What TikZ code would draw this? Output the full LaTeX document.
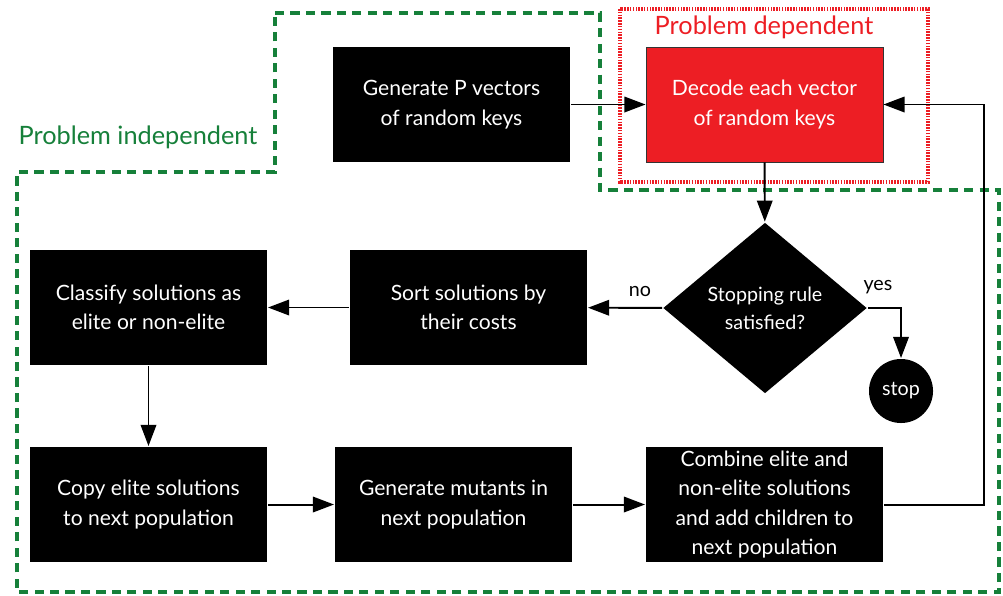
\documentclass[tikz,border=0pt]{standalone}
\usepackage{fontspec}
\setmainfont{Lato}
\usetikzlibrary{shapes.geometric, arrows.meta}
\definecolor{pgreen}{RGB}{22,128,58}
\definecolor{pred}{RGB}{237,30,36}

\begin{document}
\begin{tikzpicture}[x=0.025cm, y=-0.025cm, line width=1.4pt,
    >={Triangle[length=15pt, width=11pt]},
    blk/.style={fill=black, text=white, inner sep=0pt, minimum width=5.925cm,
      minimum height=2.875cm, align=center, font=\fontsize{15}{21}\selectfont},
    lbl/.style={font=\fontsize{14}{16}\selectfont},
    region/.style={draw=pgreen, line width=2.8pt, dash pattern=on 6.5pt off 4.5pt}]
  \useasboundingbox (0,0) rectangle (1003,595);

  % regions
  \draw[region] (275,13) -- (600,13) -- (600,190) -- (999,190) -- (999,592)
    -- (17,592) -- (17,172) -- (275,172) -- cycle;
  \draw[draw=pred, line width=2.2pt, dash pattern=on 1.1pt off 0.9pt] (620,9) rectangle (928,182);
  \node[text=pgreen, font=\fontsize{18}{20}\selectfont] (Ind) at (138,137) {Problem independent};
  \node[text=pred, font=\fontsize{18}{20}\selectfont] (Dep) at (764,27) {Problem dependent};

  % steps
  \node[blk] (Gen) at (451.5,104.5) {Generate P vectors\\of random keys};
  \node[blk, fill=pred, draw=black!80, line width=0.6pt] (Dec) at (764.5,104.5) {Decode each vector\\of random keys};
  \node[diamond, fill=black, text=white, inner sep=0pt, minimum width=5.1cm, minimum height=4.275cm,
    align=center, font=\fontsize{14}{20}\selectfont] (Dia) at (765,308) {Stopping rule\\satisfied?};
  \node[circle, fill=black, text=white, minimum size=1.6cm, inner sep=0pt, lbl] (Stop) at (901,391) {stop};
  \node[blk] (Sort) at (468.5,307.5) {Sort solutions by\\their costs};
  \node[blk] (Cls) at (148.5,307.5) {Classify solutions as\\elite or non-elite};
  \node[blk] (Copy) at (148.5,504.5) {Copy elite solutions\\to next population};
  \node[blk] (Mut) at (453.5,504.5) {Generate mutants in\\next population};
  \node[blk] (Comb) at (764.5,504.5) {Combine elite and\\non-elite solutions\\and add children to\\next population};

  % flow
  \draw[->] (Gen) -- (Dec);
  \draw[->] (Dec) -- (Dia);
  \draw[->] (Dia) -- node[lbl, pos=0.3, above, yshift=4pt] {no} (Sort);
  \draw[->] (Dia.east) -| node[lbl, pos=0.15, above, yshift=6pt] {yes} (Stop.north);
  \draw[->] (Sort) -- (Cls);
  \draw[->] (Cls) -- (Copy);
  \draw[->] (Copy) -- (Mut);
  \draw[->] (Mut) -- (Comb);
  \draw[->] (Comb.east) -- ++(100,0) |- (Dec.east);
\end{tikzpicture}
\end{document}
